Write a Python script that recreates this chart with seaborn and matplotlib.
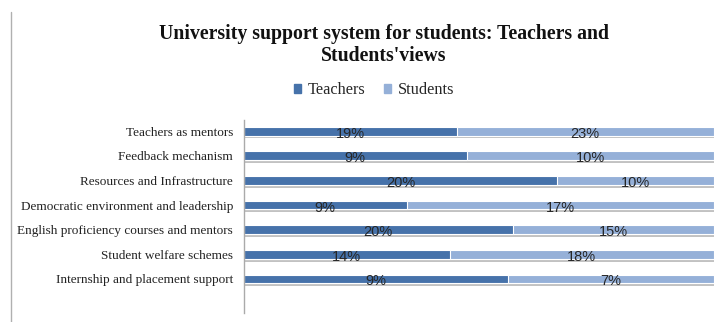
import matplotlib
matplotlib.use("Agg")
import matplotlib.pyplot as plt
import matplotlib.patheffects as pe
from matplotlib.lines import Line2D
from matplotlib.patches import Patch
import seaborn as sns
import pandas as pd
import numpy as np

categories = [
    "Teachers as mentors",
    "Feedback mechanism",
    "Resources and Infrastructure",
    "Democratic environment and leadership",
    "English proficiency courses and mentors",
    "Student welfare schemes",
    "Internship and placement support",
]
teachers = [19, 9, 20, 9, 20, 14, 9]
students = [23, 10, 10, 17, 15, 18, 7]

sns.set_theme(style="white")
plt.rcParams["font.family"] = ["Liberation Serif", "DejaVu Serif"]

C_T = "#4672AA"
C_S = "#95B0D8"

tot = np.array(teachers, float) + np.array(students, float)
df = pd.DataFrame({
    "cat": categories,
    "t_share": np.array(teachers) / tot,
    "total": tot / tot,
})

fig = plt.figure(figsize=(7.14, 3.22), dpi=100)
ax = fig.add_axes([244 / 714, 9 / 322, 1 - 244 / 714, 193 / 322])

shadow = [pe.SimplePatchShadow(offset=(0, -2), shadow_rgbFace="#9a9a9a", alpha=0.6), pe.Normal()]

sns.barplot(data=df, y="cat", x="total", orient="h", color=C_S, width=0.36,
            ax=ax, edgecolor="white", linewidth=0.8, saturation=1)
sns.barplot(data=df, y="cat", x="t_share", orient="h", color=C_T, width=0.36,
            ax=ax, edgecolor="white", linewidth=0.8, saturation=1)
for i, p in enumerate(ax.patches):
    if i < len(categories):
        p.set_path_effects(shadow)

ax.set_xlim(0, 1.0)
ax.set_ylim(7.38, -0.45)
ax.set_xlabel("")
ax.set_ylabel("")
ax.set_xticks([])
for s in ["top", "right", "bottom"]:
    ax.spines[s].set_visible(False)
ax.spines["left"].set_color("#aaaaaa")
ax.spines["left"].set_linewidth(1.0)
ax.tick_params(axis="y", length=0, pad=8, labelsize=9.5, labelcolor="#222222")

for i, (t, s) in enumerate(zip(teachers, students)):
    ts = t / (t + s)
    ax.text(ts / 2, i + 0.1, f"{t}%", ha="center", va="center", fontsize=10.5,
            color="#262626", family=["Liberation Sans", "DejaVu Sans"])
    ax.text(ts + (1 - ts) / 2, i + 0.1, f"{s}%", ha="center", va="center", fontsize=10.5,
            color="#262626", family=["Liberation Sans", "DejaVu Sans"])

fig.text(384 / 714, 1 - 34 / 322, "University support system for students: Teachers and",
         ha="center", va="center", fontsize=14.2, fontweight="bold", color="#111111")
fig.text(384 / 714, 1 - 56 / 322, "Students'views",
         ha="center", va="center", fontsize=14.2, fontweight="bold", color="#111111")

handles = [Patch(color=C_T, label="Teachers"), Patch(color=C_S, label="Students")]
fig.legend(handles=handles, loc="center", bbox_to_anchor=(374 / 714, 1 - 90 / 322), ncol=2,
           frameon=False, fontsize=11.8, handlelength=0.45, handleheight=0.45,
           handletextpad=0.4, columnspacing=1.1)

fig.add_artist(Line2D([11 / 714, 11 / 714], [0, 1 - 12 / 322], transform=fig.transFigure,
                      color="#b0b0b0", linewidth=1.0))

fig.savefig("out.png", dpi=100)
